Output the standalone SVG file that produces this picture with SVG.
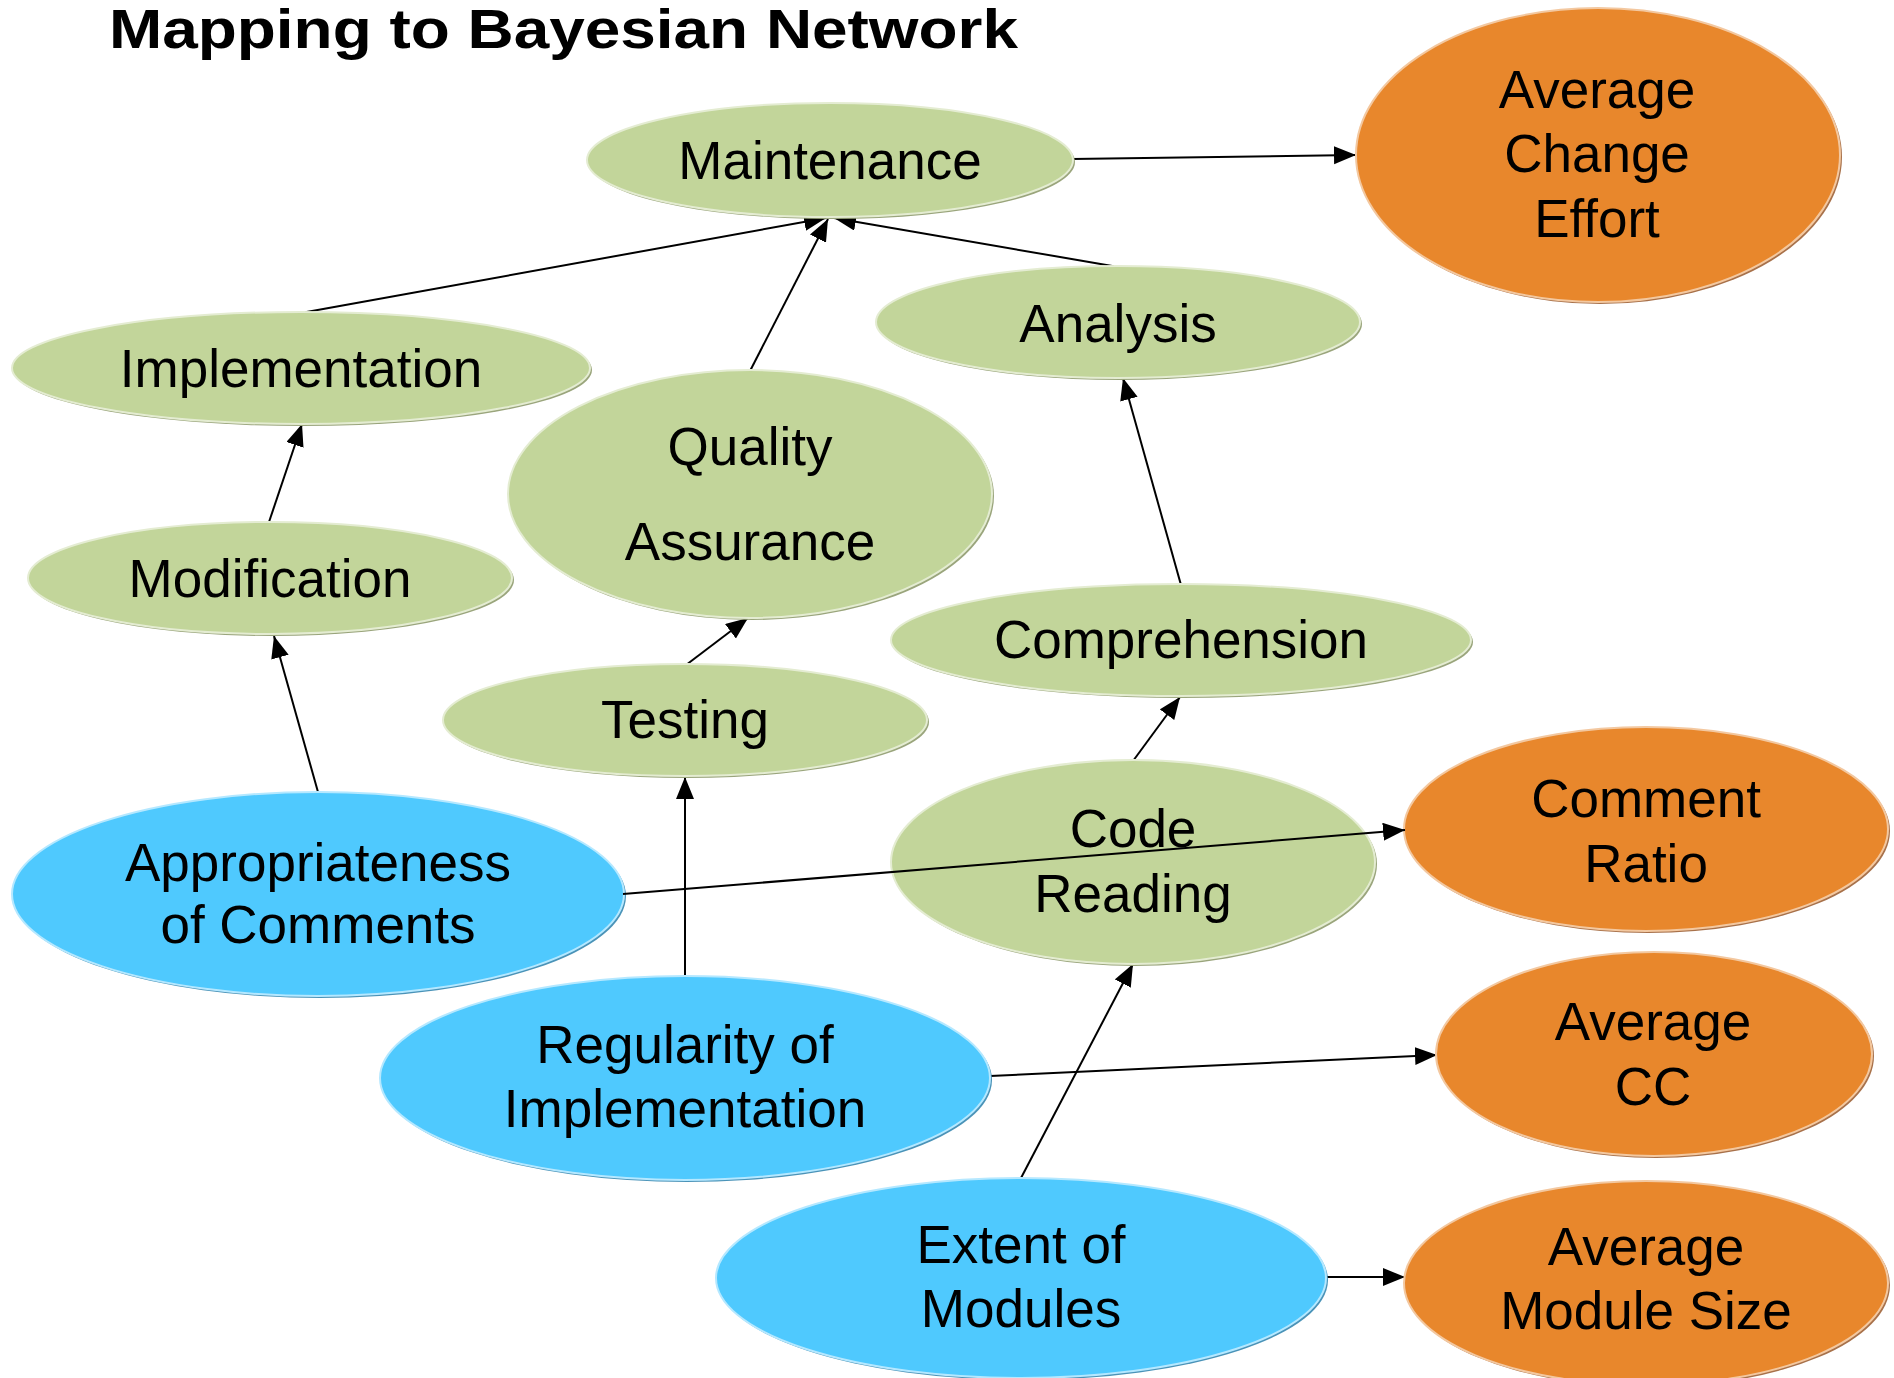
<svg xmlns="http://www.w3.org/2000/svg" width="1894" height="1378" viewBox="0 0 1894 1378">
<defs>
<marker id="arr" markerUnits="userSpaceOnUse" markerWidth="24" markerHeight="20" refX="22" refY="9" orient="auto">
<path d="M0,0 L22,9 L0,18 z" fill="#000"/>
</marker>
</defs>
<style>
.t{font-family:"Liberation Sans",Arial,Helvetica,sans-serif;font-size:53px;fill:#000;text-anchor:middle}
.title{font-family:"Liberation Sans",Arial,Helvetica,sans-serif;font-size:55px;font-weight:bold;fill:#000}
.g{fill:#c2d59a;stroke:#e4ecd2;stroke-width:2}
.gs{fill:#9aa57c}
.b{fill:#4fc9fe;stroke:#b5e8ff;stroke-width:2}
.bs{fill:#4a93b8}
.o{fill:#e8872c;stroke:#f3c8a0;stroke-width:2}
.os{fill:#a8714a}
.c{stroke:#000;stroke-width:2;fill:none;marker-end:url(#arr)}
</style>
<rect width="1894" height="1378" fill="#fff"/>
<text class="title" x="109" y="48" textLength="909" lengthAdjust="spacingAndGlyphs">Mapping to Bayesian Network</text>

<g id="connectors">
<line class="c" x1="1072" y1="159" x2="1356" y2="155"/>
<line class="c" x1="301" y1="313" x2="826" y2="218"/>
<line class="c" x1="750" y1="371" x2="828" y2="219"/>
<line class="c" x1="1118" y1="267" x2="834" y2="218"/>
<line class="c" x1="269" y1="522" x2="302" y2="424"/>
<line class="c" x1="318" y1="792" x2="274" y2="636"/>
<line class="c" x1="686" y1="665" x2="748" y2="618"/>
<line class="c" x1="685" y1="976" x2="685" y2="777"/>
<line class="c" x1="1181" y1="585" x2="1123" y2="378"/>
<line class="c" x1="1133" y1="761" x2="1180" y2="697"/>
<line class="c" x1="990" y1="1076" x2="1437" y2="1055"/>
<line class="c" x1="1021" y1="1178" x2="1133" y2="964"/>
<line class="c" x1="1326" y1="1277" x2="1405" y2="1277"/>
</g>

<g id="maintenance">
<ellipse class="gs" cx="832" cy="162" rx="243" ry="57"/>
<ellipse class="g" cx="830" cy="160" rx="243" ry="57"/>
<text class="t" x="830" y="179">Maintenance</text>
</g>
<g id="average-change-effort">
<ellipse class="os" cx="1600" cy="157" rx="242" ry="147"/>
<ellipse class="o" cx="1598" cy="155" rx="242" ry="147"/>
<text class="t" x="1597" y="108">Average</text>
<text class="t" x="1597" y="172">Change</text>
<text class="t" x="1597" y="237">Effort</text>
</g>
<g id="analysis">
<ellipse class="gs" cx="1120" cy="324" rx="242" ry="56"/>
<ellipse class="g" cx="1118" cy="322" rx="242" ry="56"/>
<text class="t" x="1118" y="342">Analysis</text>
</g>
<g id="implementation">
<ellipse class="gs" cx="303" cy="370" rx="289" ry="56"/>
<ellipse class="g" cx="301" cy="368" rx="289" ry="56"/>
<text class="t" x="301" y="387">Implementation</text>
</g>
<g id="quality-assurance">
<ellipse class="gs" cx="752" cy="496" rx="242" ry="124"/>
<ellipse class="g" cx="750" cy="494" rx="242" ry="124"/>
<text class="t" x="750" y="465">Quality</text>
<text class="t" x="750" y="560">Assurance</text>
</g>
<g id="modification">
<ellipse class="gs" cx="272" cy="580" rx="242" ry="56"/>
<ellipse class="g" cx="270" cy="578" rx="242" ry="56"/>
<text class="t" x="270" y="597">Modification</text>
</g>
<g id="comprehension">
<ellipse class="gs" cx="1183" cy="642" rx="290" ry="56"/>
<ellipse class="g" cx="1181" cy="640" rx="290" ry="56"/>
<text class="t" x="1181" y="658">Comprehension</text>
</g>
<g id="testing">
<ellipse class="gs" cx="687" cy="722" rx="242" ry="56"/>
<ellipse class="g" cx="685" cy="720" rx="242" ry="56"/>
<text class="t" x="685" y="738">Testing</text>
</g>
<g id="code-reading">
<ellipse class="gs" cx="1135" cy="864" rx="242" ry="102"/>
<ellipse class="g" cx="1133" cy="862" rx="242" ry="102"/>
<text class="t" x="1133" y="847">Code</text>
<text class="t" x="1133" y="912">Reading</text>
</g>
<g id="comment-ratio">
<ellipse class="os" cx="1648" cy="831" rx="242" ry="102"/>
<ellipse class="o" cx="1646" cy="829" rx="242" ry="102"/>
<text class="t" x="1646" y="817">Comment</text>
<text class="t" x="1646" y="882">Ratio</text>
</g>
<g id="appropriateness-of-comments">
<ellipse class="bs" cx="320" cy="896" rx="306" ry="102"/>
<ellipse class="b" cx="318" cy="894" rx="306" ry="102"/>
<text class="t" x="318" y="881">Appropriateness</text>
<text class="t" x="318" y="943">of Comments</text>
</g>
<g id="average-cc">
<ellipse class="os" cx="1656" cy="1056" rx="218" ry="102"/>
<ellipse class="o" cx="1654" cy="1054" rx="218" ry="102"/>
<text class="t" x="1653" y="1040">Average</text>
<text class="t" x="1653" y="1105">CC</text>
</g>
<g id="regularity-of-implementation">
<ellipse class="bs" cx="687" cy="1080" rx="305" ry="102"/>
<ellipse class="b" cx="685" cy="1078" rx="305" ry="102"/>
<text class="t" x="685" y="1063">Regularity of</text>
<text class="t" x="685" y="1127">Implementation</text>
</g>
<g id="extent-of-modules">
<ellipse class="bs" cx="1023" cy="1280" rx="305" ry="100"/>
<ellipse class="b" cx="1021" cy="1278" rx="305" ry="100"/>
<text class="t" x="1021" y="1263">Extent of</text>
<text class="t" x="1021" y="1327">Modules</text>
</g>
<g id="average-module-size">
<ellipse class="os" cx="1648" cy="1285" rx="242" ry="102"/>
<ellipse class="o" cx="1646" cy="1283" rx="242" ry="102"/>
<text class="t" x="1646" y="1265">Average</text>
<text class="t" x="1646" y="1329">Module Size</text>
</g>
<g id="connectors-over-nodes">
<line class="c" x1="623" y1="894" x2="1405" y2="830"/>
</g>
</svg>
